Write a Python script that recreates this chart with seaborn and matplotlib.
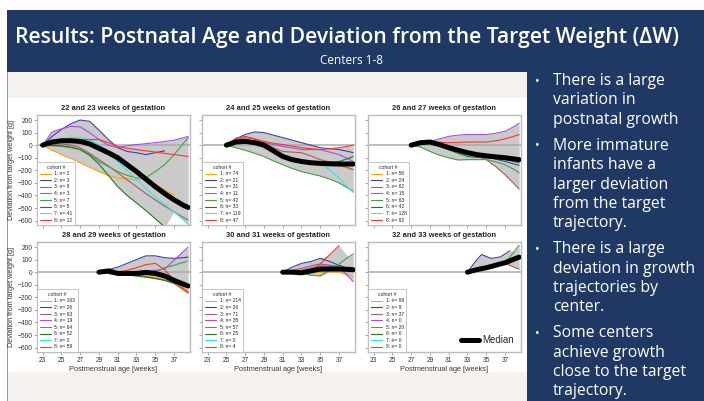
import numpy as np
import pandas as pd
import matplotlib
matplotlib.use("Agg")
import matplotlib.pyplot as plt
import seaborn as sns
from matplotlib.lines import Line2D
from matplotlib.patches import Rectangle

nan = np.nan

# ---------------- data ----------------
cohort_colors = ["#FFA500", "#3F3FAF", "#A65E5E", "#A64DEB",
                 "#45A045", "#1E7B1E", "#22EEEE", "#FF3333"]

panel_titles = ["22 and 23 weeks of gestation", "24 and 25 weeks of gestation",
                "26 and 27 weeks of gestation", "28 and 29 weeks of gestation",
                "30 and 31 weeks of gestation", "32 and 33 weeks of gestation"]

p1_n = [2, 3, 9, 3, 7, 5, 41, 12]
p2_n = [74, 21, 31, 11, 42, 33, 119, 47]
p3_n = [56, 24, 62, 15, 63, 42, 128, 92]
p4_n = [163, 26, 63, 19, 64, 52, 0, 59]
p5_n = [214, 26, 71, 35, 57, 25, 0, 4]
p6_n = [98, 9, 37, 0, 20, 0, 0, 0]

# panel 1: 22-23 weeks
p1_weeks = [23, 24, 25, 26, 27, 28, 29, 30, 31, 32, 33, 34, 35, 36, 37, 38, 38.5]
p1_median = [0, 25, 35, 35, 30, 10, -25, -60, -100, -155, -210, -270, -330, -385, -435, -478, -495]
p1_cohorts = [
    [0, -40, -75, -105, -140, -175, -210, -240, -260, -268, -275, -272, -315, -355, -395, nan, nan],
    [0, 70, 125, 170, 200, 190, 120, 45, -20, -50, -60, -75, -60, -45, nan, nan, nan],
    [0, 5, 10, 0, -20, -65, -115, -165, -220, -275, -330, -385, -435, -485, -530, -575, -595],
    [0, 105, 130, 150, 145, 100, 45, 0, -20, -5, 5, 12, 20, 30, 40, 58, 70],
    [0, -5, -10, -20, -35, -75, -130, -170, -210, -240, -260, -258, -210, -155, -75, 15, 60],
    [0, -2, -5, -15, -35, -80, -150, -240, -330, -400, -460, -520, -585, -650, nan, nan, nan],
    [0, 30, 50, 60, 60, 40, 5, -60, -130, -200, -275, -345, -410, -470, -530, -595, -630],
    [0, 20, 30, 40, 45, 45, 45, 20, -10, -25, -35, -45, -55, -65, -75, -85, -90],
]

# panel 2: 24-25 weeks
p2_weeks = [25, 26, 27, 28, 29, 30, 31, 32, 33, 34, 35, 36, 37, 38, 38.5]
p2_median = [0, 25, 30, 20, 0, -45, -90, -115, -130, -140, -145, -148, -150, -150, -150]
p2_cohorts = [
    [0, 15, 20, 10, -10, -55, -90, -105, -115, -125, -135, -150, -165, -185, -195],
    [0, 50, 85, 105, 100, 80, 60, 40, 20, 0, -20, -28, -35, -50, -60],
    [0, 45, 60, 50, 20, -20, -50, -55, -60, -85, -115, -135, -155, -180, -195],
    [0, 35, 45, 35, 20, 5, -10, -22, -35, -35, -35, -55, -75, -110, -130],
    [0, -20, -40, -65, -90, -125, -155, -185, -210, -228, -245, -270, -300, -345, -365],
    [0, 15, 20, 10, -10, -55, -90, -110, -130, -140, -145, -140, -130, -105, -90],
    [0, 30, 45, 25, 0, -45, -90, -110, -130, -140, -145, -195, -260, -340, -375],
    [0, 55, 70, 50, 30, 15, 5, -8, -20, -28, -35, -28, -20, -8, 0],
]

# panel 3: 26-27 weeks
p3_weeks = [27, 28, 29, 30, 31, 32, 33, 34, 35, 36, 37, 38, 38.5]
p3_median = [0, 20, 25, 5, -20, -40, -60, -75, -85, -93, -100, -110, -115]
p3_cohorts = [
    [0, 20, 25, 5, -15, -32, -50, -65, -75, -88, -100, -122, -135],
    [0, 20, 25, 5, -15, -35, -55, -75, -90, -110, -130, -150, -160],
    [0, 20, 25, 0, -30, -45, -60, -85, -115, -170, -235, -310, -350],
    [0, 20, 30, 50, 70, 80, 85, 85, 85, 95, 110, 150, 175],
    [0, -15, -50, -80, -100, -118, -115, -115, -115, -132, -155, -195, -220],
    [0, 20, 20, -5, -35, -65, -90, -97, -100, -108, -115, -130, -140],
    [0, 25, 28, 0, -30, -55, -75, -85, -90, -95, -100, -100, -100],
    [0, 22, 25, 22, 20, 22, 25, 25, 25, 35, 50, 72, 85],
]

# panel 4: 28-29 weeks
p4_weeks = [29, 30, 31, 32, 33, 34, 35, 36, 37, 38, 38.5]
p4_median = [0, 10, -10, -10, -10, -2, -10, -30, -65, -95, -110]
p4_cohorts = [
    [0, -10, -25, -25, -25, -30, -40, -60, -90, -145, -170],
    [0, 20, 40, 70, 100, 130, 130, 115, 110, 115, 120],
    [0, -10, -20, -22, -25, -35, -50, -65, -90, -135, -160],
    [0, -5, -5, 0, 5, 10, 15, 25, 95, 165, 200],
    [0, -10, -15, -20, -25, -15, 0, 35, 55, 78, 90],
    [0, -10, -15, -22, -30, -40, -50, -65, -85, -108, -120],
    [nan] * 11,
    [0, 5, 0, 15, 35, 60, 70, 20, -65, -130, -160],
]

# panel 5: 30-31 weeks
p5_weeks = [31, 32, 33, 34, 35, 36, 37, 38, 38.5]
p5_median = [0, 0, -5, 10, 25, 25, 25, 22, 20]
p5_cohorts = [
    [0, -8, -15, -8, 0, 2, 0, -20, -35],
    [0, 40, 70, 85, 110, 85, 55, 30, 20],
    [0, 15, 30, 50, 65, 55, 45, 25, 15],
    [0, 10, 15, 35, 50, 48, 45, -35, -75],
    [0, -5, -5, -25, -30, 15, 65, 120, 145],
    [0, 2, 5, 8, 10, 15, 20, 20, 20],
    [nan] * 9,
    [0, -3, -5, 10, 65, 140, 210, nan, nan],
]

# panel 6: 32-33 weeks
p6_weeks = [33, 33.5, 34, 34.5, 35, 35.5, 36, 36.5, 37, 37.5, 38, 38.5]
p6_median = [0, 10, 20, 28, 35, 45, 55, 65, 75, 90, 105, 120]
p6_cohorts = [
    [0, 8, 15, 22, 30, 40, 50, 60, 70, 80, 90, 100],
    [0, 50, 100, 140, 125, 110, 115, 122, 145, 170, nan, nan],
    [0, 10, 20, 30, 40, 48, 55, 62, 70, 55, 38, 25],
    [nan] * 12,
    [0, 10, 18, 27, 35, 45, 55, 62, 70, 118, 167, 215],
    [nan] * 12,
    [nan] * 12,
    [nan] * 12,
]

x_ticks = [23, 25, 27, 29, 31, 33, 35, 37]
y_ticks = [-600, -500, -400, -300, -200, -100, 0, 100, 200]

bullets = [
    ["There is a large", "variation in", "postnatal growth"],
    ["More immature", "infants have a", "larger deviation", "from the target", "trajectory."],
    ["There is a large", "deviation in growth", "trajectories by", "center."],
    ["Some centers", "achieve growth", "close to the target", "trajectory."],
]

# ---------------- figure ----------------
sns.set_theme(style="white")
plt.rcParams["font.family"] = ["Liberation Sans", "DejaVu Sans"]

W, H = 704, 401
fig = plt.figure(figsize=(W / 100, H / 100), dpi=100)
fig.patch.set_facecolor("white")


def rect(x0, y0, x1, y1, color, z=0):
    fig.patches.append(Rectangle((x0 / W, 1 - y1 / H), (x1 - x0) / W, (y1 - y0) / H,
                                 transform=fig.transFigure, facecolor=color,
                                 edgecolor="none", zorder=z))


navy = "#1F3864"
rect(7, 10, 704, 401, navy)
rect(7, 72, 527, 401, "white", 1)
rect(7, 72, 527, 98, "#F4F1EE", 1)
rect(7, 372, 527, 401, "#F4F1EE", 1)
rect(6.5, 72, 7.8, 401, "#9A9A9A", 2)

fig.text(347 / W, 1 - 38 / H, "Results: Postnatal Age and Deviation from the Target Weight (ΔW)",
         ha="center", va="center", color="white", fontsize=15.2, fontweight="semibold",
         family=["Open Sans", "DejaVu Sans"])
fig.text(352 / W, 1 - 60 / H, "Centers 1-8", ha="center", va="center", color="white",
         fontsize=8.5, family=["Open Sans", "DejaVu Sans"])

line_y = 81
for para in bullets:
    fig.text(537 / W, 1 - line_y / H, "•", ha="center", va="center", color="white",
             fontsize=9, family=["Open Sans", "DejaVu Sans"])
    for ln in para:
        fig.text(553 / W, 1 - line_y / H, ln, ha="left", va="center", color="white",
                 fontsize=11.3, family=["Open Sans", "DejaVu Sans"])
        line_y += 19.4
    line_y += 6.5

panels = [
    (p1_weeks, p1_median, p1_cohorts, p1_n),
    (p2_weeks, p2_median, p2_cohorts, p2_n),
    (p3_weeks, p3_median, p3_cohorts, p3_n),
    (p4_weeks, p4_median, p4_cohorts, p4_n),
    (p5_weeks, p5_median, p5_cohorts, p5_n),
    (p6_weeks, p6_median, p6_cohorts, p6_n),
]

col_left = [37, 202, 368]
row_top = [115, 242]
ax_w, ax_h = 153, 110

for k, (weeks, median, cohorts, ns) in enumerate(panels):
    r, c = divmod(k, 3)
    left, top = col_left[c], row_top[r]
    ax = fig.add_axes([left / W, 1 - (top + ax_h) / H, ax_w / W, ax_h / H], zorder=3)
    ax.set_facecolor("white")

    arr = np.array(cohorts, dtype=float)
    lo = np.nanmin(arr, axis=0)
    hi = np.nanmax(arr, axis=0)
    ax.fill_between(weeks, lo, hi, color="#CACACA", lw=0, zorder=1)
    ax.axhline(0, color="#AAAAAA", lw=1.1, zorder=2)

    for i, vals in enumerate(cohorts):
        df = pd.DataFrame({"week": weeks, "dev": vals}).dropna()
        if len(df):
            sns.lineplot(data=df, x="week", y="dev", color=cohort_colors[i], lw=0.8,
                         estimator=None, sort=False, ax=ax, zorder=3)
    dfm = pd.DataFrame({"week": weeks, "dev": median})
    sns.lineplot(data=dfm, x="week", y="dev", color="black", lw=3.6,
                 estimator=None, sort=False, ax=ax, zorder=4)

    ax.set_xlim(22.4, 38.7)
    ax.set_ylim(-635, 240)
    ax.set_xticks(x_ticks)
    ax.set_yticks(y_ticks)
    ax.tick_params(bottom=True, left=True, direction="out", length=2, width=0.5,
                   color="#888888", labelsize=4.8, labelcolor="#333333", pad=1.5)
    for s in ax.spines.values():
        s.set_color("#BBBBBB")
        s.set_linewidth(1.0)
    ax.set_title(panel_titles[k], fontsize=5.4, fontweight="bold", color="#222222", pad=3.5)

    if r == 1:
        ax.set_xlabel("Postmenstrual age [weeks]", fontsize=5.3, color="#333333", labelpad=1.5)
    else:
        ax.set_xlabel("")
        ax.set_xticklabels([])
    if c == 0:
        ax.set_ylabel("Deviation from target weight [g]", fontsize=5.2, color="#333333", labelpad=1.5)
    else:
        ax.set_ylabel("")
        ax.set_yticklabels([])

    handles = [Line2D([], [], color=cohort_colors[i], lw=0.8) for i in range(8)]
    labels = [f"{i + 1}: n= {ns[i]}" for i in range(8)]
    leg = ax.legend(handles, labels, title="cohort #", loc="lower left", borderaxespad=0,
                    fontsize=3.6, title_fontsize=3.6, frameon=True, fancybox=False,
                    edgecolor="#BBBBBB", framealpha=1, handlelength=2.2, handletextpad=0.8,
                    labelspacing=0.32, borderpad=0.5)
    leg.get_frame().set_linewidth(0.6)
    if k == 5:
        ax.add_artist(leg)
        ax.legend([Line2D([], [], color="black", lw=3.6)], ["Median"], loc="lower right",
                  frameon=False, fontsize=7, handlelength=1.8, handletextpad=0.4,
                  borderaxespad=0.3)

fig.savefig("out.png", dpi=100, facecolor=fig.get_facecolor())
